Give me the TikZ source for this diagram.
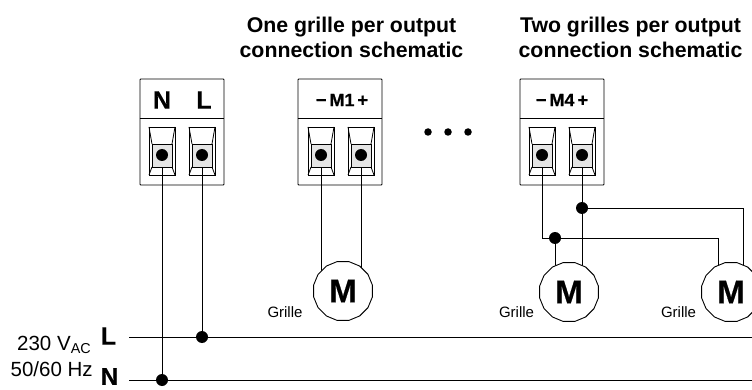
\documentclass[tikz,border=0pt]{standalone}
\usepackage{fontspec}
\setmainfont{Liberation Sans}
\newfontfamily\heavyfont[FakeBold=0.5]{Liberation Sans Bold}
\usetikzlibrary{shapes.geometric,calc,backgrounds}
\tikzset{
  wire/.style={draw=black,line width=0.9pt},
  termbox/.style={draw=black,line width=0.9pt,rectangle,rounded corners=0.8pt,minimum width=84pt,minimum height=106pt,inner sep=0pt},
  hdr/.style={font=\fontsize{18}{18}\selectfont\heavyfont,inner sep=0pt},
  bigdot/.style={circle,fill=black,inner sep=0pt,minimum size=12pt},
  smalldot/.style={circle,fill=black,inner sep=0pt,minimum size=7.5pt},
  motor/.style={regular polygon,regular polygon sides=16,draw=black,fill=white,line width=0.9pt,minimum size=60pt,inner sep=0pt,font=\fontsize{33}{33}\selectfont\heavyfont},
  grille/.style={font=\fontsize{15}{15}\selectfont,inner sep=0pt},
  title/.style={font=\fontsize{21.3}{25}\selectfont\bfseries,align=center,inner sep=0pt},
  mains/.style={font=\fontsize{20.5}{20.5}\selectfont,inner sep=0pt},
  lbl/.style={font=\fontsize{25}{25}\selectfont\heavyfont,inner sep=0pt}
}
\newcommand{\terminalclamp}[2]{%
  \begin{scope}[shift={(#2,155)},line width=0.8pt]
    \fill[black!10] (-10,-11) rectangle (10,12);
    \draw (-13,-28) -- (13,-28) -- (13,20) -- (-13,20) -- cycle;
    \draw (-10,-11) rectangle (10,12);
    \draw (-13,-28) -- (-10,-11) (13,-28) -- (10,-11) (-13,20) -- (-10,12) (13,20) -- (10,12);
  \end{scope}
  \node[bigdot] (#1) at (#2,155) {};
}
\begin{document}
\begin{tikzpicture}[x=1pt,y=-1pt]
\clip (0,0) rectangle (752,390);

\node[title] (t1) at (351.5,37) {One grille per output\\connection schematic};
\node[title] (t2) at (630.5,37) {Two grilles per output\\connection schematic};

% terminal blocks
\node[termbox] (bN) at (182,132) {};
\node[termbox] (bM1) at (340,132) {};
\node[termbox] (bM4) at (562,132) {};
\draw[wire] (bN.west |- 0,118) -- (bN.east |- 0,118);
\draw[wire] (bM1.west |- 0,118) -- (bM1.east |- 0,118);
\draw[wire] (bM4.west |- 0,118) -- (bM4.east |- 0,118);
\node[lbl] (hN) at (162,100) {N};
\node[lbl] (hL) at (204,100) {L};
\node[hdr] (h1) at (342,100) {\textminus\,M1\,+};
\node[hdr] (h4) at (562,100) {\textminus\,M4\,+};

\terminalclamp{tN}{162}
\terminalclamp{tL}{202}
\terminalclamp{ta}{321}
\terminalclamp{tb}{361}
\terminalclamp{tc}{542}
\terminalclamp{td}{582}

\node[smalldot] (e1) at (428,132) {};
\node[smalldot] (e2) at (448,132) {};
\node[smalldot] (e3) at (468,132) {};

% motors
\node[motor] (m1) at (343,291) {M};
\node[motor] (m2) at (569,292) {M};
\node[motor] (m3) at (731,292) {M};
\node[grille] (g1) at (285,312) {Grille};
\node[grille] (g2) at (516.5,312) {Grille};
\node[grille] (g3) at (678.5,312) {Grille};

% mains
\coordinate (Ls) at (129,337);
\coordinate (Le) at (752,337);
\coordinate (Ns) at (129,380);
\coordinate (Ne) at (752,380);
\node[bigdot] (jL) at (202,337) {};
\node[bigdot] (jN) at (162,380) {};
\node[lbl] (lL) at (108.5,336) {L};
\node[lbl,font=\fontsize{24}{24}\selectfont\heavyfont] (lN) at (109.5,376.5) {N};
\node[mains,anchor=west] (v) at (17,345) {230 V\textsubscript{AC}};
\node[mains,anchor=west] (f) at (10.5,369) {50/60 Hz};

% junctions
\node[bigdot] (j1) at (555,238) {};
\node[bigdot] (j2) at (582,208) {};
\coordinate (c1) at (542,238);
\coordinate (c2) at (718,238);
\coordinate (c3) at (743,208);

\begin{scope}[on background layer]
  \draw[wire] (Ls) -- (Le);
  \draw[wire] (Ns) -- (Ne);
  \draw[wire] (tN) -- (jN);
  \draw[wire] (tL) -- (jL);
  \draw[wire] (ta) -- (ta |- m1.center);
  \draw[wire] (tb) -- (tb |- m1.center);
  \draw[wire] (tc) -- (c1) -- (j1) -- (c2) -- (c2 |- m3.center);
  \draw[wire] (j1) -- (j1 |- m2.center);
  \draw[wire] (td) -- (td |- m2.center);
  \draw[wire] (j2) -- (c3) -- (c3 |- m3.center);
\end{scope}
\end{tikzpicture}
\end{document}
